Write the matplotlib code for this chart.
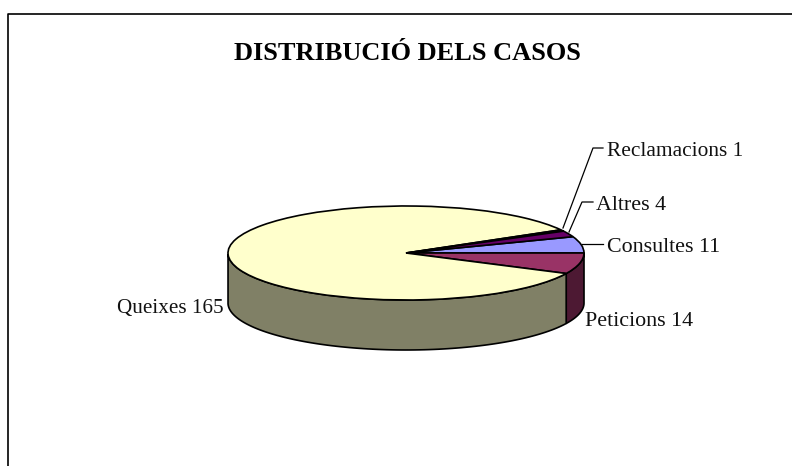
import numpy as np
import matplotlib
matplotlib.use("Agg")
import matplotlib.pyplot as plt

categories = ["Consultes", "Peticions", "Queixes", "Reclamacions", "Altres"]
values = [11, 14, 165, 1, 4]
top_colors = ["#9999FF", "#993366", "#FFFFCC", "#CCFFFF", "#660066"]
side_colors = ["#4D4D80", "#4D1933", "#808066", "#668080", "#330033"]

W, H = 792, 466
cx, cy, rx, ry, depth = 406, 253, 178, 47, 50

plt.rcParams["font.family"] = ["Liberation Serif"]
fig = plt.figure(figsize=(W / 100, H / 100), dpi=100, facecolor="white")

# frame
bg = fig.add_axes([0, 0, 1, 1])
bg.set_xlim(0, W)
bg.set_ylim(H, 0)
bg.axis("off")
bg.plot([7.5, 7.5, W], [H, 14, 14], color="black", lw=1.2, solid_capstyle="butt")

# pie: the axes spans the top ellipse exactly; data unit 1 = one radius
ax = fig.add_axes([(cx - rx) / W, 1 - (cy + ry) / H, 2 * rx / W, 2 * ry / H])
ax.set_zorder(2)
total = sum(values)
start = 360 * values[0] / total
ax.pie(values, colors=top_colors, startangle=start, counterclock=False, radius=1,
       wedgeprops=dict(edgecolor="black", linewidth=1.2), frame=False)
ax.set_aspect("auto")
ax.set_xlim(-1, 1)
ax.set_ylim(-1, 1)
d = depth / ry

# side wall built from the same slice angles
edges = start - 360 * np.cumsum([0] + values) / total
for i in range(len(values)):
    a0, a1 = edges[i + 1], edges[i]
    a = np.radians(np.linspace(a0, a1, 200))
    a = a[np.sin(a) <= 1e-9]
    if len(a) < 2:
        continue
    x, y = np.cos(a), np.sin(a)
    ax.fill(np.r_[x, x[::-1]], np.r_[y, y[::-1] - d], facecolor=side_colors[i],
            edgecolor="black", linewidth=1.2, zorder=0, clip_on=False)

# labels and leader lines
tc = "#111111"
bg.text(407, 54, "DISTRIBUCIÓ DELS CASOS", fontsize=19, fontweight="bold",
        ha="center", va="center", color="black")
labels = [
    ("Consultes 11", 607, 248, 15.8),
    ("Peticions 14", 585, 322, 15.8),
    ("Queixes 165", 117, 309, 15.2),
    ("Reclamacions 1", 607, 152, 15.4),
    ("Altres 4", 596, 206, 15.8),
]
for (t, x, y, fs) in labels:
    bg.text(x, y, t, fontsize=fs, ha="left", va="center", color=tc)

lw = 0.9
bg.plot([563, 593, 603], [228, 148, 148], color="black", lw=lw)
bg.plot([569, 582, 593], [232, 202, 202], color="black", lw=lw)
bg.plot([582, 603], [244, 244], color="black", lw=lw)

fig.savefig("out.png", dpi=100, facecolor="white")
